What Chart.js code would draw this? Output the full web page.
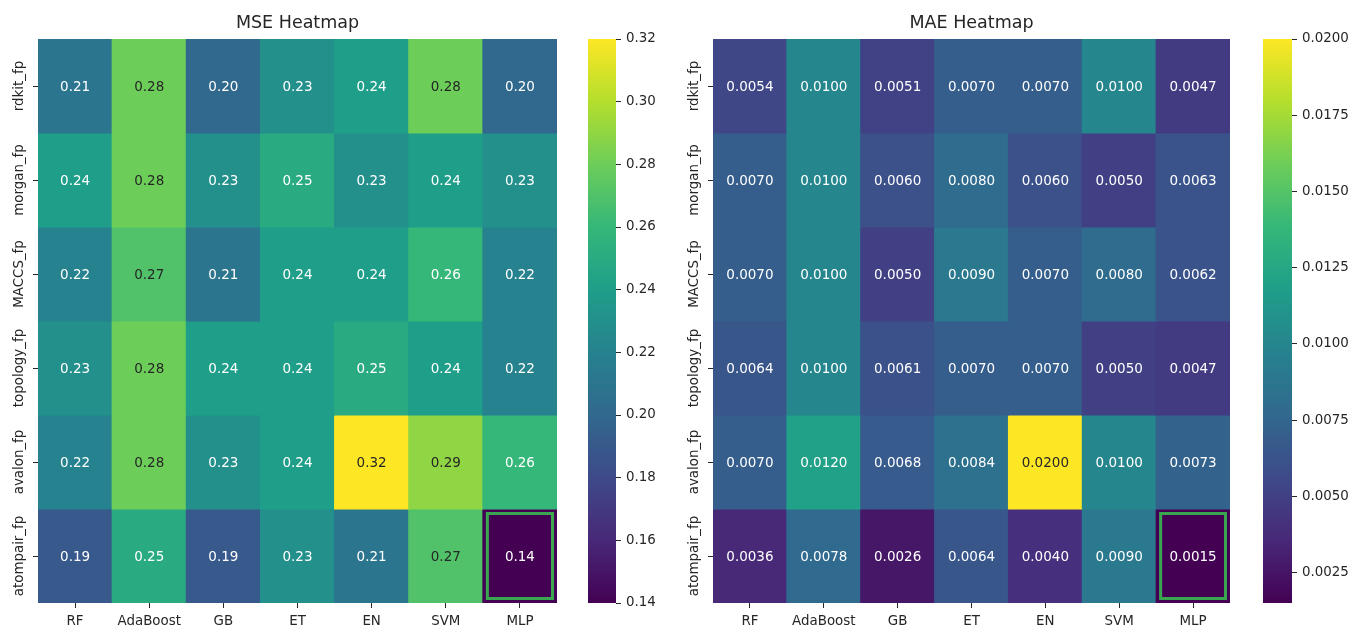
<!DOCTYPE html>
<html lang="en">
<head>
<meta charset="UTF-8">
<title>MSE / MAE Heatmaps</title>
<script src="https://cdn.jsdelivr.net/npm/chart.js"></script>
<style>
    body { margin: 0; background: #fff; }
    .wrap { position: relative; width: 1354px; height: 627px; overflow: hidden; }
    canvas { position: absolute; top: 0; }
</style>
</head>
<body>
<div class="wrap">
    <canvas id="mseMap" width="575" height="627" style="left:0px"></canvas>
    <canvas id="mseBar" width="100" height="627" style="left:575px"></canvas>
    <canvas id="maeMap" width="573" height="627" style="left:675px"></canvas>
    <canvas id="maeBar" width="106" height="627" style="left:1248px"></canvas>
</div>
<script>
// categories
const models = ['RF', 'AdaBoost', 'GB', 'ET', 'EN', 'SVM', 'MLP'];
const fingerprints = ['rdkit_fp', 'morgan_fp', 'MACCS_fp', 'topology_fp', 'avalon_fp', 'atompair_fp'];

// MSE per fingerprint (columns follow models)
const mseRdkit    = [0.21, 0.28, 0.20, 0.23, 0.24, 0.28, 0.20];
const mseMorgan   = [0.24, 0.28, 0.23, 0.25, 0.23, 0.24, 0.23];
const mseMaccs    = [0.22, 0.27, 0.21, 0.24, 0.24, 0.26, 0.22];
const mseTopology = [0.23, 0.28, 0.24, 0.24, 0.25, 0.24, 0.22];
const mseAvalon   = [0.22, 0.28, 0.23, 0.24, 0.32, 0.29, 0.26];
const mseAtompair = [0.19, 0.25, 0.19, 0.23, 0.21, 0.27, 0.14];

// MAE per fingerprint
const maeRdkit    = [0.0054, 0.0100, 0.0051, 0.0070, 0.0070, 0.0100, 0.0047];
const maeMorgan   = [0.0070, 0.0100, 0.0060, 0.0080, 0.0060, 0.0050, 0.0063];
const maeMaccs    = [0.0070, 0.0100, 0.0050, 0.0090, 0.0070, 0.0080, 0.0062];
const maeTopology = [0.0064, 0.0100, 0.0061, 0.0070, 0.0070, 0.0050, 0.0047];
const maeAvalon   = [0.0070, 0.0120, 0.0068, 0.0084, 0.0200, 0.0100, 0.0073];
const maeAtompair = [0.0036, 0.0078, 0.0026, 0.0064, 0.0040, 0.0090, 0.0015];

// colorbar ticks
const mseTicks = [0.14, 0.16, 0.18, 0.20, 0.22, 0.24, 0.26, 0.28, 0.30, 0.32];
const maeTicks = [0.0025, 0.0050, 0.0075, 0.0100, 0.0125, 0.0150, 0.0175, 0.0200];

const mseRows = [mseRdkit, mseMorgan, mseMaccs, mseTopology, mseAvalon, mseAtompair];
const maeRows = [maeRdkit, maeMorgan, maeMaccs, maeTopology, maeAvalon, maeAtompair];

// viridis, 10 evenly spaced samples
const viridis = ['#440154', '#482878', '#3e4a89', '#31688e', '#26828e',
                 '#1f9e89', '#35b779', '#6dcd59', '#b4de2c', '#fde725'];
const TEXT = '#262626';
const FONT = 'DejaVu Sans';
Chart.defaults.font.family = FONT;

function hexToRgb(h) {
    return [1, 3, 5].map(i => parseInt(h.slice(i, i + 2), 16));
}

function colorFor(v, vmin, vmax) {
    let t = Math.min(1, Math.max(0, (v - vmin) / (vmax - vmin))) * (viridis.length - 1);
    const i = Math.min(viridis.length - 2, Math.floor(t));
    const f = t - i;
    const a = hexToRgb(viridis[i]), b = hexToRgb(viridis[i + 1]);
    const c = a.map((x, k) => Math.round(x + (b[k] - x) * f));
    return `rgb(${c[0]},${c[1]},${c[2]})`;
}

// same rule seaborn uses to pick annotation colour
function isLight(rgbStr) {
    const c = rgbStr.match(/\d+/g).map(Number).map(x => x / 255)
        .map(x => x <= 0.03928 ? x / 12.92 : Math.pow((x + 0.055) / 1.055, 2.4));
    return 0.2126 * c[0] + 0.7152 * c[1] + 0.0722 * c[2] > 0.408;
}

const cellText = {
    id: 'cellText',
    afterDatasetsDraw(chart, args, opts) {
        const ctx = chart.ctx;
        ctx.save();
        ctx.font = `13.5px ${FONT}`;
        ctx.textAlign = 'center';
        ctx.textBaseline = 'middle';
        let best = null;
        chart.data.datasets.forEach((ds, r) => {
            chart.getDatasetMeta(r).data.forEach((bar, i) => {
                const v = ds.values[i];
                ctx.fillStyle = isLight(ds.backgroundColor[i]) ? TEXT : '#ffffff';
                ctx.fillText(v.toFixed(opts.digits), bar.x, (bar.y + bar.base) / 2 + 1);
                if (!best || v < best.v) best = { v, bar };
            });
        });
        // outline the lowest error cell
        const b = best.bar;
        const top = Math.min(b.y, b.base), bottom = Math.max(b.y, b.base);
        const inset = 4.5;
        ctx.strokeStyle = '#3aa64f';
        ctx.lineWidth = 3;
        ctx.strokeRect(b.x - b.width / 2 + inset, top + inset,
                       b.width - 2 * inset, bottom - top - 2 * inset);
        ctx.restore();
    }
};

const rowLabels = {
    id: 'rowLabels',
    afterDraw(chart) {
        const ctx = chart.ctx;
        const y = chart.scales.y;
        ctx.save();
        ctx.font = `13.4px ${FONT}`;
        ctx.fillStyle = TEXT;
        ctx.textAlign = 'center';
        ctx.textBaseline = 'middle';
        fingerprints.forEach((fp, r) => {
            ctx.save();
            ctx.translate(chart.chartArea.left - 18, y.getPixelForValue(r + 0.5));
            ctx.rotate(-Math.PI / 2);
            ctx.fillText(fp, 0, 0);
            ctx.restore();
        });
        ctx.restore();
    }
};

function makeHeatmap(id, title, rows, vmin, vmax, digits) {
    const datasets = rows.map((vals, r) => ({
        label: fingerprints[r],
        values: vals,
        data: vals.map(() => [r, r + 1]),
        backgroundColor: vals.map(v => colorFor(v, vmin, vmax)),
        borderWidth: 0,
        inflateAmount: 0.5,
        grouped: false,
        barPercentage: 1,
        categoryPercentage: 1
    }));
    return new Chart(document.getElementById(id), {
        type: 'bar',
        data: { labels: models, datasets },
        options: {
            responsive: false,
            animation: false,
            events: [],
            layout: { padding: { left: 0, right: 18, bottom: 0 } },
            plugins: {
                legend: { display: false },
                tooltip: { enabled: false },
                title: {
                    display: true,
                    text: title,
                    fullSize: false,
                    color: TEXT,
                    font: { size: 17.5, weight: 'normal' },
                    padding: { top: 13, bottom: 5 }
                },
                cellText: { digits }
            },
            scales: {
                x: {
                    type: 'category',
                    grid: { offset: false, drawOnChartArea: false, tickLength: 5, color: TEXT },
                    border: { display: false },
                    ticks: { color: TEXT, font: { size: 13.4 }, padding: 5, maxRotation: 0 },
                    afterFit: s => { s.height = 24; }
                },
                y: {
                    type: 'linear',
                    min: 0,
                    max: fingerprints.length,
                    reverse: true,
                    grid: { drawOnChartArea: false, tickLength: 5, color: TEXT },
                    border: { display: false },
                    ticks: { callback: () => '' },
                    afterBuildTicks: s => { s.ticks = fingerprints.map((f, r) => ({ value: r + 0.5 })); },
                    afterFit: s => { s.width = 38; }
                }
            }
        },
        plugins: [cellText, rowLabels]
    });
}

function makeColorbar(id, vmin, vmax, ticks, digits, padLeft, axisWidth) {
    return new Chart(document.getElementById(id), {
        type: 'bar',
        data: {
            labels: [''],
            datasets: [{
                data: [[vmin, vmax]],
                backgroundColor: ctx => {
                    const chart = ctx.chart;
                    if (!chart.chartArea) return viridis[0];
                    const y = chart.scales.y;
                    const g = chart.ctx.createLinearGradient(0, y.getPixelForValue(vmin), 0, y.getPixelForValue(vmax));
                    viridis.forEach((c, i) => g.addColorStop(i / (viridis.length - 1), c));
                    return g;
                },
                borderWidth: 0,
                barPercentage: 1,
                categoryPercentage: 1
            }]
        },
        options: {
            responsive: false,
            animation: false,
            events: [],
            layout: { padding: { left: padLeft, right: 0, top: 39, bottom: 24 } },
            plugins: { legend: { display: false }, tooltip: { enabled: false } },
            scales: {
                x: { display: false },
                y: {
                    type: 'linear',
                    position: 'right',
                    min: vmin,
                    max: vmax,
                    grid: { drawOnChartArea: false, tickLength: 5, color: TEXT },
                    border: { display: false },
                    ticks: { color: TEXT, font: { size: 13.4 }, padding: 5, callback: v => Number(v).toFixed(digits) },
                    afterBuildTicks: s => { s.ticks = ticks.map(v => ({ value: v })); },
                    afterFit: s => { s.width = axisWidth; }
                }
            }
        }
    });
}

makeHeatmap('mseMap', 'MSE Heatmap', mseRows, 0.14, 0.32, 2);
makeColorbar('mseBar', 0.14, 0.32, mseTicks, 2, 13, 59);
makeHeatmap('maeMap', 'MAE Heatmap', maeRows, 0.0015, 0.0200, 4);
makeColorbar('maeBar', 0.0015, 0.0200, maeTicks, 4, 15, 62);
</script>
</body>
</html>
